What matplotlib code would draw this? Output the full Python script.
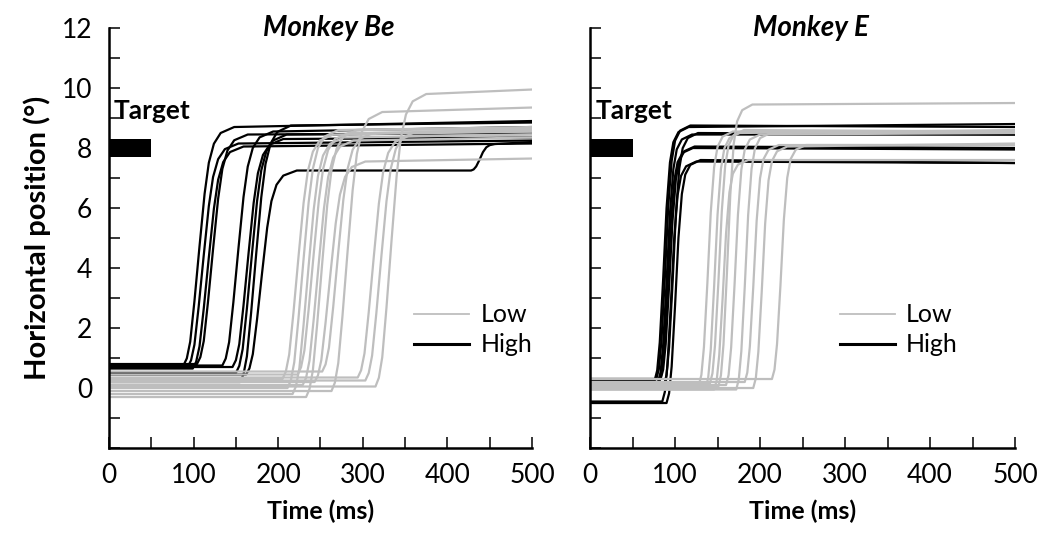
import matplotlib
matplotlib.use("Agg")
import matplotlib.pyplot as plt
from matplotlib.lines import Line2D

plt.rcParams['font.family'] = ['Lato', 'DejaVu Sans']

LOW_COLOR = '#bebebe'
HIGH_COLOR = '#000000'

# saccade shape (ms after onset, fraction of amplitude)
be_prof_dt = [0, 4, 8, 13, 19, 25, 30, 36, 44, 60]
be_prof_f = [0, 0.03, 0.10, 0.27, 0.50, 0.72, 0.85, 0.93, 0.975, 1.0]
e_prof_dt = [0, 3, 6, 10, 14, 18, 22, 28, 40]
e_prof_f = [0, 0.04, 0.15, 0.40, 0.68, 0.86, 0.94, 0.98, 1.0]

# Monkey Be, High
be_high_on = [88, 93, 99, 104, 134, 146, 150, 155, 162]
be_high_base = [0.75, 0.7, 0.65, 0.8, 0.75, 0.7, 0.5, 0.2, 0.45]
be_high_level = [8.7, 8.15, 8.05, 8.45, 8.55, 8.3, 8.45, 8.75, 7.25]
be_high_end = [8.9, 8.25, 8.15, 8.5, 8.7, 8.35, 8.5, 8.85, 8.2]
be_high_corr = {8: (428, 8.15)}  # late corrective saccade of the last trace

# Monkey Be, Low
be_low_on = [205, 211, 217, 223, 229, 233, 243, 252, 263, 294, 303, 315]
be_low_base = [0.3, 0.0, -0.2, 0.45, 0.1, -0.3, 0.2, 0.55, -0.1, 0.35, 0.25, 0.05]
be_low_level = [8.45, 8.6, 8.35, 8.5, 8.25, 8.6, 7.55, 8.5, 9.2, 8.4, 8.55, 9.8]
be_low_end = [8.55, 8.7, 8.45, 8.55, 8.35, 8.65, 7.65, 8.6, 9.35, 8.45, 8.6, 9.95]

# Monkey E, High
e_high_on = [76, 78, 80, 81, 83, 85, 87, 90]
e_high_base = [0.25, 0.3, 0.2, 0.15, 0.3, -0.45, 0.1, -0.5]
e_high_level = [8.7, 8.75, 8.45, 8.0, 8.05, 7.55, 8.5, 7.6]
e_high_end = [8.8, 8.7, 8.45, 7.95, 8.0, 7.5, 8.45, 7.5]

# Monkey E, Low
e_low_on = [128, 136, 141, 146, 151, 160, 172, 182, 192, 214]
e_low_base = [0.1, 0.0, 0.15, -0.05, 0.05, 0.1, -0.05, 0.2, 0.0, 0.3]
e_low_level = [8.55, 8.5, 8.6, 7.6, 9.45, 8.45, 8.5, 8.1, 8.05, 8.1]
e_low_end = [8.55, 8.6, 8.55, 7.6, 9.5, 8.5, 8.55, 8.1, 8.15, 8.1]

target_start, target_len, target_pos = 0, 50, 8.0


def make_trace(on, base, level, end, dt, f, corr=None):
    t = [0, on] + [on + d for d in dt[1:]]
    y = [base, base] + [base + (level - base) * v for v in f[1:]]
    if corr is not None:
        c_on, c_lev = corr
        t += [c_on] + [c_on + d for d in e_prof_dt[1:]]
        y += [level] + [level + (c_lev - level) * v for v in e_prof_f[1:]]
    t.append(500)
    y.append(end)
    return t, y


fig = plt.figure(figsize=(10.46, 5.42), dpi=100)
ax1 = fig.add_axes([0.1042, 0.1734, 0.4044, 0.7749])
ax2 = fig.add_axes([0.5641, 0.1734, 0.4063, 0.7749])

panels = [
    (ax1, 'Monkey Be', be_prof_dt, be_prof_f,
     (be_high_on, be_high_base, be_high_level, be_high_end, be_high_corr),
     (be_low_on, be_low_base, be_low_level, be_low_end, {}), 0.722),
    (ax2, 'Monkey E', e_prof_dt, e_prof_f,
     (e_high_on, e_high_base, e_high_level, e_high_end, {}),
     (e_low_on, e_low_base, e_low_level, e_low_end, {}), 0.588),
]

for ax, title, dt, f, high, low, leg_x in panels:
    for grp, col in [(high, HIGH_COLOR), (low, LOW_COLOR)]:
        on, base, level, end, corr = grp
        for i in range(len(on)):
            t, y = make_trace(on[i], base[i], level[i], end[i], dt, f, corr.get(i))
            ax.plot(t, y, color=col, lw=1.6, solid_joinstyle='round')

    ax.barh(target_pos, target_len, left=target_start, height=0.62,
            color='black', zorder=3)
    ax.text(6, 9.25, 'Target', fontsize=19, fontweight='bold', ha='left', va='center')
    ax.text(0.52, 1.0, title, transform=ax.transAxes, fontsize=20,
            fontweight='bold', fontstyle='italic', ha='center', va='center')

    ax.set_xlim(0, 500)
    ax.set_ylim(-2, 12)
    ax.set_xticks(range(0, 501, 100))
    ax.set_xticks(range(0, 501, 50), minor=True)
    ax.set_yticks(range(0, 13, 2))
    ax.set_yticks(range(-2, 13, 1), minor=True)
    for s in ['top', 'right']:
        ax.spines[s].set_visible(False)
    for s in ['left', 'bottom']:
        ax.spines[s].set_linewidth(1.8)
    ax.tick_params(which='both', direction='in', length=8, width=1.1,
                   labelsize=19)
    ax.tick_params(axis='y', pad=12)
    ax.tick_params(axis='x', pad=11)
    ax.set_xlabel('Time (ms)', fontsize=18, fontweight='bold', labelpad=8)

    handles = [Line2D([], [], color=LOW_COLOR, lw=1.3),
               Line2D([], [], color=HIGH_COLOR, lw=2.2)]
    ax.legend(handles, ['Low', 'High'], loc='center left',
              bbox_to_anchor=(leg_x, 0.281), frameon=False, fontsize=18,
              handlelength=2.2, handletextpad=0.45, labelspacing=0.28,
              borderpad=0, borderaxespad=0)

ax1.set_ylabel('Horizontal position (°)', fontsize=21, fontweight='bold', labelpad=8)
ax2.set_yticklabels([])

fig.savefig('out.png', dpi=100)
